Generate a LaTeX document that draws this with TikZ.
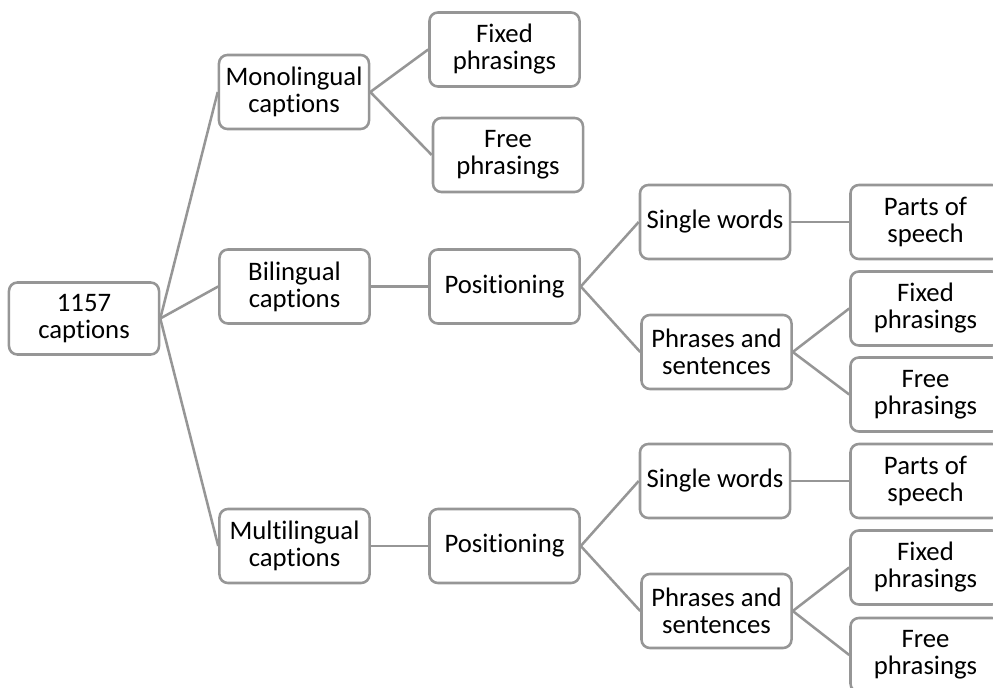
\documentclass[tikz,border=0pt]{standalone}
\usepackage{fontspec}
\setmainfont{Carlito}[Ligatures=NoCommon]
\usepackage{xcolor}
\usepackage{tikz}
\usetikzlibrary{positioning}

\definecolor{boxgray}{RGB}{150,150,150}

\begin{document}
\begin{tikzpicture}[x=0.025cm,y=-0.025cm,
  box/.style={draw=boxgray,line width=1.8pt,rounded corners=6pt,fill=white,
    minimum width=3.75cm,minimum height=1.85cm,align=center,inner sep=2pt,
    font=\fontsize{19}{19.2}\selectfont},
  link/.style={draw=boxgray,line width=1.8pt}]
% Frame of the picture (boxes on the right run past the edge)
\useasboundingbox (0,0) rectangle (993,688);
\clip (0,0) rectangle (993,688);

% Root
\node[box,minimum height=1.8cm] (root) at (84,318.5) {1157\\captions};

% Monolingual branch
\node[box] (mono) at (294,92) {Monolingual\\captions};
\node[box] (monofix) at (504.5,49.5) {Fixed\\phrasings};
\node[box] (monofree) at (508,155) {Free\\phrasings};

% Bilingual branch
\node[box] (bi) at (294.5,286.5) {Bilingual\\captions};
\node[box] (bipos) at (504.5,286.5) {Positioning};
\node[box] (bisingle) at (715,222) {Single words};
\node[box] (biparts) at (925.5,222) {Parts of\\speech};
\node[box] (biphr) at (716.5,352) {Phrases and\\sentences};
\node[box] (bifix) at (925.5,308.5) {Fixed\\phrasings};
\node[box] (bifree) at (925.5,394.5) {Free\\phrasings};

% Multilingual branch
\node[box] (multi) at (294.5,546) {Multilingual\\captions};
\node[box] (multipos) at (504.5,546) {Positioning};
\node[box] (multisingle) at (715,481) {Single words};
\node[box] (multiparts) at (925.5,481) {Parts of\\speech};
\node[box] (multiphr) at (716.5,611) {Phrases and\\sentences};
\node[box] (multifix) at (925.5,567.5) {Fixed\\phrasings};
\node[box] (multifree) at (925.5,655) {Free\\phrasings};

% Connectors
\foreach \a/\b in {root/mono, root/bi, root/multi,
    mono/monofix, mono/monofree,
    bi/bipos, bipos/bisingle, bipos/biphr,
    bisingle/biparts, biphr/bifix, biphr/bifree,
    multi/multipos, multipos/multisingle, multipos/multiphr,
    multisingle/multiparts, multiphr/multifix, multiphr/multifree}
  \draw[link] (\a.east) -- (\b.west);
\end{tikzpicture}
\end{document}
